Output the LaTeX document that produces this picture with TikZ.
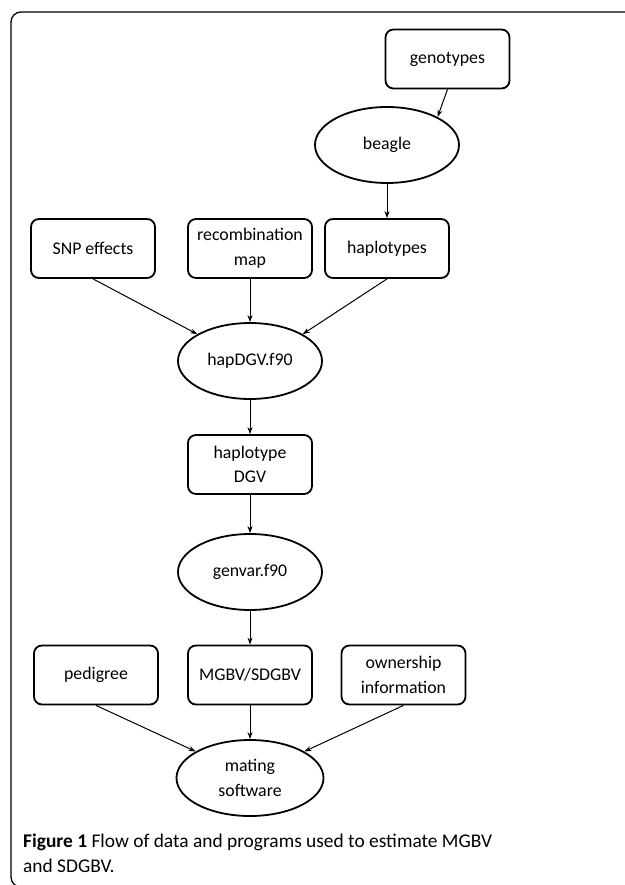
\documentclass[tikz,border=0pt]{standalone}
\usepackage{fontspec}
\setmainfont{Carlito}
\usetikzlibrary{shapes.geometric,arrows.meta}
\begin{document}
\begin{tikzpicture}[x=1pt,y=-1pt,
  box/.style={draw, line width=1.8pt, rounded corners=8pt, minimum width=124pt, minimum height=59pt, inner sep=0pt, align=center, font=\fontsize{17.8}{24.5}\selectfont},
  oval/.style={draw, ellipse, line width=1.8pt, minimum width=144pt, minimum height=76pt, inner sep=0pt, align=center, font=\fontsize{17.8}{24.5}\selectfont},
  arr/.style={line width=1pt, -{Stealth[length=7pt,width=5pt]}}]
\useasboundingbox (0,0) rectangle (624,885);
\fill[white] (0,0) rectangle (624,885);
% frame
\draw[line width=1.3pt, rounded corners=10pt] (660,12) -- (11,12) -- (11,887) -- (60,887);
% nodes
\node[box] (geno) at (447.5,59) {genotypes};
\node[oval] (beagle) at (387,145) {beagle};
\node[box] (snp) at (93,248.5) {SNP effects};
\node[box] (recomb) at (250,248.5) {recombination\\map};
\node[box] (haplo) at (387,248.5) {haplotypes};
\node[oval] (hapdgv) at (250,361) {hapDGV.f90};
\node[box] (hdgv) at (250,464.5) {haplotype\\DGV};
\node[oval] (genvar) at (250,572) {genvar.f90};
\node[box] (ped) at (96,675) {pedigree};
\node[box] (mgbv) at (250,675) {MGBV/SDGBV};
\node[box] (own) at (403.5,675) {ownership\\information};
\node[oval, minimum width=147pt] (mating) at (250,778) {mating\\software};
% connectors
\draw[arr] (geno.south) -- (beagle.29);
\draw[arr] (beagle.south) -- (haplo.north);
\draw[arr] (snp.south) -- (hapdgv.153);
\draw[arr] (recomb.south) -- (hapdgv.north);
\draw[arr] (haplo.south) -- (hapdgv.27);
\draw[arr] (hapdgv.south) -- (hdgv.north);
\draw[arr] (hdgv.south) -- (genvar.north);
\draw[arr] (genvar.south) -- (mgbv.north);
\draw[arr] (ped.south) -- (mating.154);
\draw[arr] (mgbv.south) -- (mating.north);
\draw[arr] (own.south) -- (mating.26);
% caption
\node[anchor=base west, inner sep=0pt, font=\fontsize{19.4}{25}\selectfont] (cap1) at (23,847) {\textbf{Figure 1} Flow of data and programs used to estimate MGBV};
\node[anchor=base west, inner sep=0pt, font=\fontsize{19.4}{25}\selectfont] (cap2) at (23,872) {and SDGBV.};
\end{tikzpicture}
\end{document}
